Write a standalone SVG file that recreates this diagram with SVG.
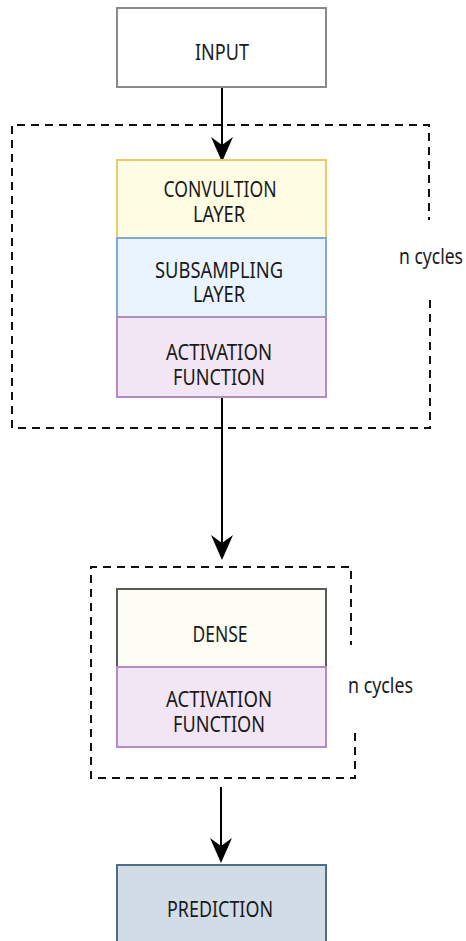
<svg xmlns="http://www.w3.org/2000/svg" width="466" height="941" viewBox="0 0 466 941">
  <style>
    .lbl { font-family: "Noto Sans", "DejaVu Sans", sans-serif; font-size: 22.5px; fill: #1a1a1a; text-anchor: middle; }
    .side { font-family: "Noto Sans", "DejaVu Sans", sans-serif; font-size: 22.5px; fill: #1a1a1a; }
    .box { stroke-width: 2; }
    .dash { fill: none; stroke: #111; stroke-width: 2; stroke-dasharray: 8 6; }
    .wire { fill: none; stroke: #000; stroke-width: 2; }
    .tip { fill: #000; }
  </style>
  <rect width="466" height="941" fill="#fff"/>

  <!-- repeat blocks (dashed frames) -->
  <g id="frames">
    <path class="dash" d="M430,300 L430,428 L12,428 L12,125 L429,125 L429,220"/>
    <path class="dash" d="M355,733 L355,778 L91,778 L91,567 L351,567 L351,645"/>
  </g>

  <!-- connectors: shaft plus classic arrowhead -->
  <g id="connectors">
    <line class="wire" x1="222" y1="87" x2="222" y2="150"/>
    <path class="tip" d="M222,162 L211,137 L222,145 L233,137 Z"/>
    <line class="wire" x1="222" y1="397" x2="222" y2="548"/>
    <path class="tip" d="M222,560 L211,535 L222,543 L233,535 Z"/>
    <line class="wire" x1="221" y1="787" x2="221" y2="851"/>
    <path class="tip" d="M221,863 L210,838 L221,846 L232,838 Z"/>
  </g>

  <g id="input">
    <rect class="box" x="117" y="8" width="209" height="79" fill="#fff" stroke="#8a8a8a"/>
    <text class="lbl" x="222" y="60" textLength="54" lengthAdjust="spacingAndGlyphs">INPUT</text>
  </g>

  <g id="convolution">
    <rect class="box" x="117" y="160" width="209" height="78" fill="#fffde3" stroke="#ecc96e"/>
    <text class="lbl" x="220" y="197" textLength="113" lengthAdjust="spacingAndGlyphs">CONVULTION</text>
    <text class="lbl" x="219" y="222" textLength="52" lengthAdjust="spacingAndGlyphs">LAYER</text>
  </g>

  <g id="subsampling">
    <rect class="box" x="117" y="238" width="209" height="79" fill="#eaf4ff" stroke="#82a9d6"/>
    <text class="lbl" x="219" y="278" textLength="128" lengthAdjust="spacingAndGlyphs">SUBSAMPLING</text>
    <text class="lbl" x="219" y="302" textLength="52" lengthAdjust="spacingAndGlyphs">LAYER</text>
  </g>

  <g id="activation1">
    <rect class="box" x="117" y="317" width="209" height="80" fill="#f2e5f4" stroke="#b48cc4"/>
    <text class="lbl" x="219" y="360" textLength="106" lengthAdjust="spacingAndGlyphs">ACTIVATION</text>
    <text class="lbl" x="219" y="385" textLength="92" lengthAdjust="spacingAndGlyphs">FUNCTION</text>
  </g>

  <g id="cycles1">
    <text class="side" x="399" y="264" textLength="64" lengthAdjust="spacingAndGlyphs">n cycles</text>
  </g>

  <g id="dense">
    <rect class="box" x="117" y="589" width="209" height="78" fill="#fdfdf4" stroke="#5a5a5a"/>
    <text class="lbl" x="220" y="642" textLength="55" lengthAdjust="spacingAndGlyphs">DENSE</text>
  </g>

  <g id="activation2">
    <rect class="box" x="117" y="667" width="209" height="80" fill="#f2e5f4" stroke="#b48cc4"/>
    <text class="lbl" x="219" y="707" textLength="106" lengthAdjust="spacingAndGlyphs">ACTIVATION</text>
    <text class="lbl" x="219" y="732" textLength="92" lengthAdjust="spacingAndGlyphs">FUNCTION</text>
  </g>

  <g id="cycles2">
    <text class="side" x="348" y="693" textLength="65" lengthAdjust="spacingAndGlyphs">n cycles</text>
  </g>

  <g id="prediction">
    <rect class="box" x="117" y="865" width="209" height="90" fill="#d1dce6" stroke="#4f6c82"/>
    <text class="lbl" x="220" y="917" textLength="106" lengthAdjust="spacingAndGlyphs">PREDICTION</text>
  </g>
</svg>
